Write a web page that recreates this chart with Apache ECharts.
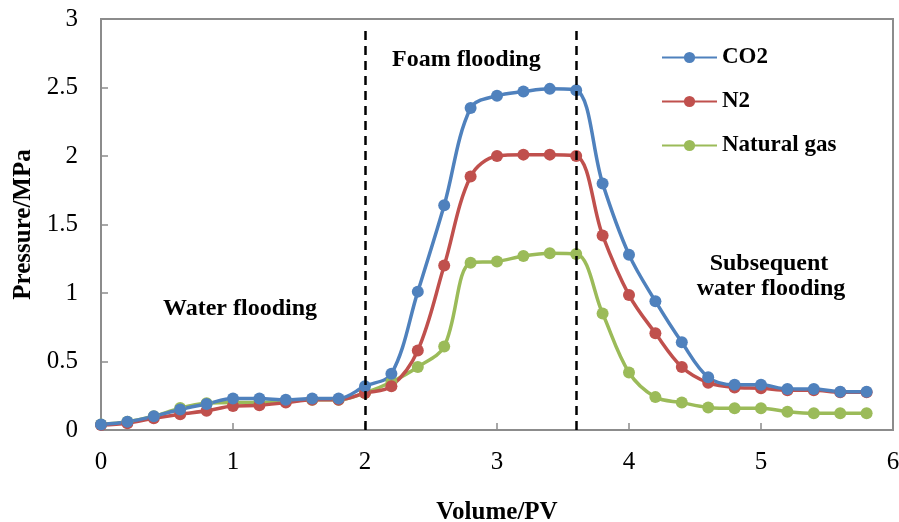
<!DOCTYPE html>
<html>
<head>
<meta charset="utf-8">
<script src="https://cdn.jsdelivr.net/npm/echarts@6/dist/echarts.min.js"></script>
<style>
  html, body { margin: 0; padding: 0; background: #fff; }
  #chart { width: 899px; height: 522px; }
</style>
</head>
<body>
<div id="chart"></div>
<script>
// injected volume, PV
const pv = [0, 0.2, 0.4, 0.6, 0.8, 1.0, 1.2, 1.4, 1.6, 1.8, 2.0, 2.2, 2.4, 2.6, 2.8,
  3.0, 3.2, 3.4, 3.6, 3.8, 4.0, 4.2, 4.4, 4.6, 4.8, 5.0, 5.2, 5.4, 5.6, 5.8]

// pressure, MPa
const co2 = [0.04, 0.06, 0.1, 0.15, 0.19, 0.23, 0.23, 0.22, 0.23, 0.23, 0.32, 0.41, 1.01, 1.64, 2.35,
  2.44, 2.47, 2.49, 2.48, 1.80, 1.28, 0.94, 0.64, 0.385, 0.33, 0.33, 0.30, 0.30, 0.28, 0.28]
const n2 = [0.036, 0.05, 0.085, 0.115, 0.14, 0.175, 0.18, 0.2, 0.22, 0.22, 0.27, 0.32, 0.58, 1.2, 1.85,
  2.0, 2.01, 2.01, 2.0, 1.42, 0.985, 0.706, 0.46, 0.345, 0.31, 0.305, 0.29, 0.29, 0.275, 0.275]
const naturalGas = [0.04, 0.06, 0.1, 0.16, 0.195, 0.2, 0.2, 0.21, 0.22, 0.22, 0.27, 0.35, 0.46, 0.61, 1.22,
  1.23, 1.27, 1.29, 1.285, 0.85, 0.42, 0.24, 0.2, 0.165, 0.158, 0.158, 0.134, 0.122, 0.122, 0.122]

// stage boundaries (PV) and how high the dashed lines reach (MPa)
const stageLines = [2, 3.6]
const stageTop = 2.92

const font = '"Liberation Serif", "Times New Roman", serif'
const gray = '#8c8c8c'

const pairs = (ys) => pv.map((x, i) => [x, ys[i]])

const makeSeries = (name, ys, color, extra) => Object.assign({
  name: name,
  type: 'line',
  data: pairs(ys),
  smooth: 0.35,
  symbol: 'circle',
  symbolSize: 12,
  lineStyle: { color: color, width: 3.5 },
  itemStyle: { color: color },
  z: 3,
}, extra || {})

const label = (text, x, y, align) => ({
  type: 'text', x: x, y: y, z: 10,
  style: { text: text, font: 'bold 24px ' + font, fill: '#000', align: align, verticalAlign: 'middle' },
})

const chart = echarts.init(document.getElementById('chart'))

chart.setOption({
  animation: false,
  textStyle: { fontFamily: font },
  grid: {
    left: 101, right: 6, top: 19, bottom: 92,
    outerBoundsMode: 'none', containLabel: false,
    show: true, borderColor: gray, borderWidth: 2,
  },
  legend: {
    orient: 'vertical',
    left: 656,
    top: 41,
    itemWidth: 55,
    itemHeight: 14,
    itemGap: 21,
    textStyle: { fontFamily: font, fontSize: 23, fontWeight: 'bold', color: '#000' },
    data: ['CO2', 'N2', 'Natural gas'],
  },
  xAxis: {
    type: 'value',
    min: 0,
    max: 6,
    interval: 1,
    name: 'Volume/PV',
    nameLocation: 'middle',
    nameGap: 70,
    nameTextStyle: { fontFamily: font, fontSize: 25, fontWeight: 'bold', color: '#000' },
    splitLine: { show: false },
    axisLine: { lineStyle: { color: gray, width: 2 } },
    axisTick: { inside: true, length: 7, lineStyle: { color: gray, width: 1.5 } },
    axisLabel: { fontFamily: font, fontSize: 25, color: '#000', margin: 20 },
  },
  yAxis: {
    type: 'value',
    min: 0,
    max: 3,
    interval: 0.5,
    name: 'Pressure/MPa',
    nameLocation: 'middle',
    nameRotate: 90,
    nameGap: 58,
    nameTextStyle: { fontFamily: font, fontSize: 25, fontWeight: 'bold', color: '#000' },
    splitLine: { show: false },
    axisLine: { show: true, lineStyle: { color: gray, width: 2 } },
    axisTick: { show: true, inside: true, length: 7, lineStyle: { color: gray, width: 1.5 } },
    axisLabel: { fontFamily: font, fontSize: 25, color: '#000', margin: 23 },
  },
  series: [
    makeSeries('Natural gas', naturalGas, '#9bbb59'),
    makeSeries('N2', n2, '#c0504d', {
      markLine: {
        silent: true,
        symbol: 'none',
        label: { show: false },
        lineStyle: { color: '#000', type: [9, 6], width: 2.5 },
        data: stageLines.map((x) => [{ coord: [x, 0] }, { coord: [x, stageTop] }]),
      },
    }),
    makeSeries('CO2', co2, '#4f81bd'),
  ],
  graphic: [
    label('Water flooding', 163, 309, 'left'),
    label('Foam flooding', 392, 60, 'left'),
    label('Subsequent', 769, 264, 'center'),
    label('water flooding', 771, 289, 'center'),
  ],
})
</script>
</body>
</html>
